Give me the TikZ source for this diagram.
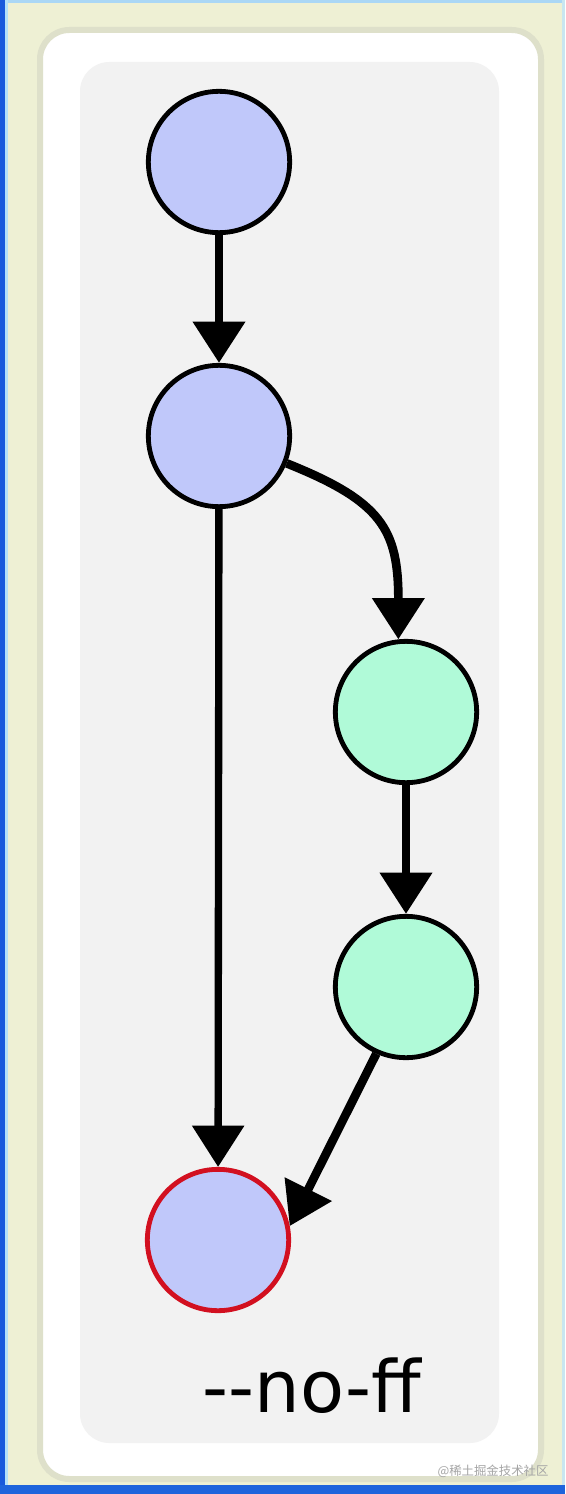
\documentclass[tikz,border=0pt]{standalone}
\usepackage{fontspec}
\newfontfamily\labelfont{DejaVu Sans}
\newfontfamily\markfont{Noto Sans CJK SC}
\usetikzlibrary{arrows.meta}

\tikzset{every picture/.style={line width=0.75pt}}
\tikzset{
  commit/.style={circle, draw={rgb, 255:red, 0; green, 0; blue, 0 }, line width=3.6pt, minimum size=106pt, inner sep=0pt},
  maincommit/.style={commit, fill={rgb, 255:red, 192; green, 200; blue, 250 }},
  branchcommit/.style={commit, fill={rgb, 255:red, 176; green, 250; blue, 216 }},
  mergecommit/.style={maincommit, draw={rgb, 255:red, 210; green, 16; blue, 32 }},
  link/.style={line width=6.5pt, -{Triangle[width=38pt,length=31pt]}},
}

\begin{document}
\begin{tikzpicture}[x=0.75pt,y=0.75pt,yscale=-1,xscale=1]
\useasboundingbox (0,0) rectangle (565,1494);

%Shape: Rectangle (window frame)
\fill [fill={rgb, 255:red, 238; green, 240; blue, 212 }] (0,0) rectangle (565,1494);
\fill [fill={rgb, 255:red, 170; green, 215; blue, 245 }] (0,0) rectangle (565,3);
\fill [fill={rgb, 255:red, 200; green, 230; blue, 240 }] (562,0) rectangle (565,1494);
\fill [fill={rgb, 255:red, 180; green, 225; blue, 250 }] (0,0) rectangle (8,1494);
\fill [fill={rgb, 255:red, 25; green, 90; blue, 220 }] (0,0) rectangle (5,1494);
\fill [fill={rgb, 255:red, 30; green, 100; blue, 220 }] (0,1485) rectangle (565,1494);
%Shape: Rounded Rectangle (white sheet)
\draw [draw={rgb, 255:red, 222; green, 224; blue, 202 }, fill={rgb, 255:red, 255; green, 255; blue, 255 }, line width=4.5pt, rounded corners=22pt] (40,30) rectangle (541,1479);
%Shape: Rounded Rectangle (grey panel)
\fill [fill={rgb, 255:red, 242; green, 242; blue, 242 }, rounded corners=22pt] (80,62) rectangle (499,1443);

%Shape: Circle
\node [maincommit] (first) at (219,162) {};
\node [maincommit] (second) at (219,436) {};
\node [branchcommit] (topic1) at (406,712) {};
\node [branchcommit] (topic2) at (406,987) {};
\node [mergecommit] (merge) at (218,1240) {};

%Straight Lines
\draw [link] (first) -- (second);
\draw [link, line width=5.5pt] (second) -- (merge);
%Curve Lines
\draw [link] (second.-22) .. controls +(95,38) and +(0,-110) .. (topic1.96);
\draw [link] (topic1) -- (topic2);
\draw [link] (topic2.-114) -- (merge.11);

% Text Node
\node [anchor=base, inner sep=0pt] (flag) at (312,1412) {\fontsize{54}{62}\selectfont\labelfont --no-ff};
% Text Node
\node [anchor=base, inner sep=0pt, text={rgb, 255:red, 165; green, 165; blue, 165 }] (mark) at (493,1475) {\fontsize{9.3}{11}\selectfont\markfont @稀土掘金技术社区};

\end{tikzpicture}
\end{document}
